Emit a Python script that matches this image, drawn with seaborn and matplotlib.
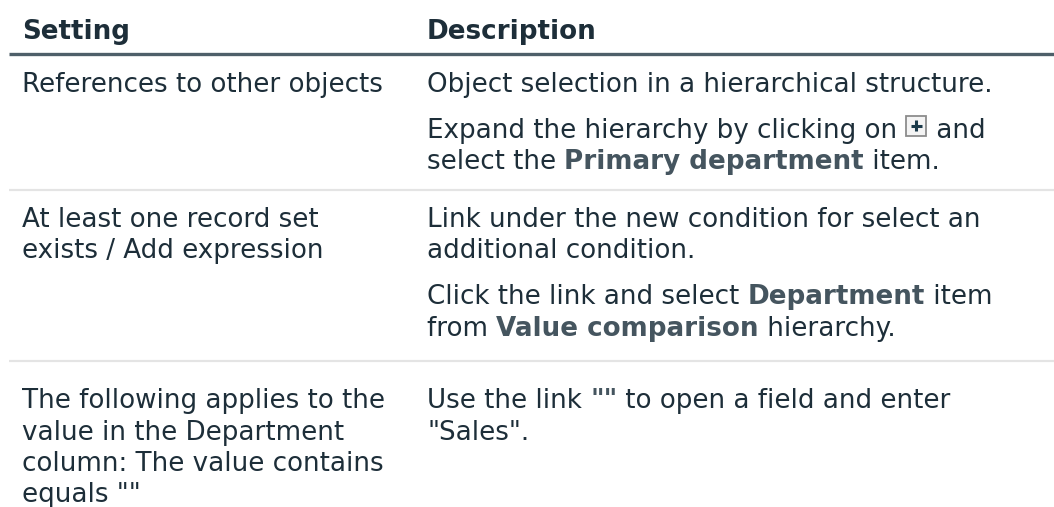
import matplotlib
matplotlib.use("Agg")
import matplotlib.pyplot as plt
import seaborn as sns
from matplotlib.patches import Rectangle

# Table content
headers = ["Setting", "Description"]
settings = [
    "References to other objects",
    "At least one record set\nexists / Add expression",
    "The following applies to the\nvalue in the Department\ncolumn: The value contains\nequals \"\"",
]
# one list of paragraphs per row; **...** marks bold, [+] marks the expand icon
descriptions = [
    ["Object selection in a hierarchical structure.",
     "Expand the hierarchy by clicking on [+] and\nselect the **Primary department** item."],
    ["Link under the new condition for select an\nadditional condition.",
     "Click the link and select **Department** item\nfrom **Value comparison** hierarchy."],
    ["Use the link **\"\"** to open a field and enter\n\"Sales\"."],
]

# Layout (pixels)
W, H = 1054, 507
col_x = [22, 427]
header_base = 39
header_line_y = 54
row_lines = [190, 361]
row_first_base = [92, 227, 408]
line_step = 31.5
para_gap = 14
fs = 18.8

text_col = "#1d2e39"
bold_col = "#45555f"

sns.set_theme(style="white")
plt.rcParams["font.family"] = ["DejaVu Sans"]

fig = plt.figure(figsize=(W / 100, H / 100), dpi=100)
ax = fig.add_axes([0, 0, 1, 1])
ax.set_xlim(0, W)
ax.set_ylim(H, 0)
ax.axis("off")
renderer = fig.canvas.get_renderer()


def run_width(s, weight):
    t1 = ax.text(0, 0, s + ".", fontsize=fs, fontweight=weight)
    t2 = ax.text(0, 0, ".", fontsize=fs, fontweight=weight)
    w = t1.get_window_extent(renderer).width - t2.get_window_extent(renderer).width
    t1.remove()
    t2.remove()
    return w


def draw_icon(x, base):
    size = 20
    top = base - 22
    ax.add_patch(Rectangle((x + 1, top), size, size, facecolor="#f4f4f4",
                           edgecolor="#8c8c8c", linewidth=1.3))
    cx, cy = x + 1 + size / 2, top + size / 2
    ax.plot([cx - 5.5, cx + 5.5], [cy, cy], color="#1b3a4a", lw=2.2, solid_capstyle="butt")
    ax.plot([cx, cx], [cy - 5.5, cy + 5.5], color="#1b3a4a", lw=2.2, solid_capstyle="butt")
    return size + 3


def draw_line(x, base, line):
    parts = line.split("**")
    for i, part in enumerate(parts):
        weight = "bold" if i % 2 else "normal"
        color = bold_col if i % 2 else text_col
        chunks = part.split("[+]")
        for j, chunk in enumerate(chunks):
            if chunk:
                ax.text(x, base, chunk, fontsize=fs, fontweight=weight,
                        color=color, va="baseline", ha="left")
                x += run_width(chunk, weight)
            if j < len(chunks) - 1:
                x += draw_icon(x, base)


# Header
for cx, h in zip(col_x, headers):
    ax.text(cx, header_base, h, fontsize=fs, fontweight="bold", color=text_col,
            va="baseline", ha="left")
ax.plot([9, W], [header_line_y, header_line_y], color="#4e5f69", lw=2.4,
        solid_capstyle="butt")
for y in row_lines:
    ax.plot([9, W], [y, y], color="#e4e4e4", lw=1.6, solid_capstyle="butt")

# Rows
for r, (setting, paras) in enumerate(zip(settings, descriptions)):
    base = row_first_base[r]
    for k, line in enumerate(setting.split("\n")):
        draw_line(col_x[0], base + k * line_step, line)
    for para in paras:
        lines = para.split("\n")
        for k, line in enumerate(lines):
            draw_line(col_x[1], base + k * line_step, line)
        base += len(lines) * line_step + para_gap

fig.savefig("out.png", dpi=100)
